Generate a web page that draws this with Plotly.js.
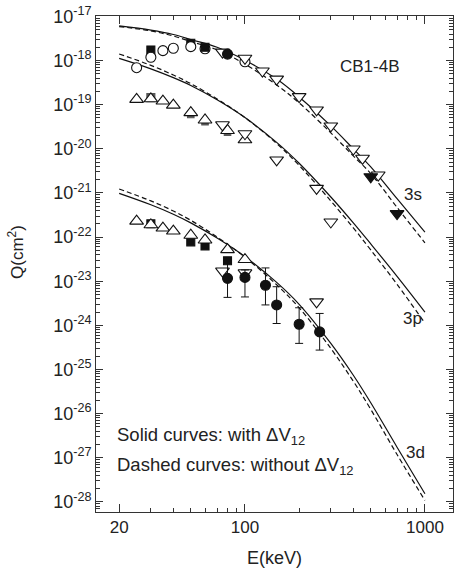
<!DOCTYPE html>
<html>
<head>
<meta charset="utf-8">
<script src="https://cdn.plot.ly/plotly-3.0.1.min.js"></script>
<style>html,body{margin:0;padding:0;background:#fff;}#chart{width:457px;height:570px;}</style>
</head>
<body>
<div id="chart"></div>
<script>
// ---- Theory curves (energy in keV, cross sections in cm^2) ----
const curveE = [20, 30, 40, 50, 70, 100, 150, 200, 300, 400, 500, 700, 1000];
const s3Solid  = [6.1e-18, 4.9e-18, 3.9e-18, 3.0e-18, 2.0e-18, 1.02e-18, 3.8e-19, 1.5e-19, 3.3e-20, 1.0e-20, 3.9e-21, 7.4e-22, 1.3e-22];
const s3Dashed = [5.9e-18, 4.7e-18, 3.6e-18, 2.7e-18, 1.75e-18, 8.3e-19, 2.8e-19, 1.1e-19, 2.3e-20, 6.9e-21, 2.75e-21, 4.7e-22, 7.4e-23];
const p3Solid  = [1.12e-18, 6.5e-19, 4.1e-19, 2.72e-19, 1.29e-19, 5.1e-20, 1.4e-20, 4.7e-21, 8.1e-22, 2.1e-22, 7.0e-23, 1.29e-23, 2.0e-24];
const p3Dashed = [1.41e-18, 7.8e-19, 4.7e-19, 3.0e-19, 1.35e-19, 5.1e-20, 1.32e-20, 4.2e-21, 6.6e-22, 1.62e-22, 5.1e-23, 8.5e-24, 1.12e-24];
const d3Solid  = [9.8e-22, 5.4e-22, 3.3e-22, 2.1e-22, 9.5e-23, 3.6e-23, 9.4e-24, 3.0e-24, 3.9e-25, 7.4e-26, 1.76e-26, 1.73e-27, 1.53e-28];
const d3Dashed = [1.23e-21, 6.6e-22, 3.9e-22, 2.4e-22, 1.0e-22, 3.5e-23, 8.3e-24, 2.5e-24, 3.0e-25, 5.4e-26, 1.25e-26, 1.18e-27, 1.08e-28];

// ---- 3s data ----
const s3CircBackE = [60];
const s3CircBackQ = [1.85e-18];
const s3SqE = [30, 50, 60];
const s3SqQ = [1.74e-18, 2.46e-18, 2.0e-18];
const s3CircE = [25, 30, 35, 40, 50, 100];
const s3CircQ = [6.9e-19, 1.19e-18, 1.68e-18, 1.9e-18, 2.07e-18, 9.4e-19];
const s3DownE = [75, 100, 125, 150, 200, 250, 300, 400, 450, 550];
const s3DownQ = [1.55e-18, 1.13e-18, 5.8e-19, 3.8e-19, 1.52e-19, 7.6e-20, 3.3e-20, 9.9e-21, 6.1e-21, 2.55e-21];
const s3DotE = [80];
const s3DotQ = [1.4e-18];
const s3DownFillE = [500, 700];
const s3DownFillQ = [2.33e-21, 3.4e-22];

// ---- 3p data ----
const p3SqE = [30, 50, 60, 80];
const p3SqQ = [1.45e-19, 6.0e-20, 4.1e-20, 2.37e-20];
const p3UpE = [25, 30, 35, 40, 50, 60, 80, 100];
const p3UpQ = [1.32e-19, 1.36e-19, 1.21e-19, 9.8e-20, 6.6e-20, 4.5e-20, 2.6e-20, 1.6e-20];
const p3DownE = [75, 100, 150, 250, 300];
const p3DownQ = [3.5e-20, 2.2e-20, 5.6e-21, 1.27e-21, 2.2e-22];

// ---- 3d data ----
const d3SqE = [30, 50, 60, 80];
const d3SqQ = [2.0e-22, 7.8e-23, 6.3e-23, 2.9e-23];
const d3UpE = [25, 30, 35, 40, 50, 60, 80, 100];
const d3UpQ = [2.3e-22, 1.9e-22, 1.6e-22, 1.37e-22, 1.1e-22, 8.6e-23, 5.2e-23, 3.1e-23];
const d3DownE = [75, 100, 250];
const d3DownQ = [1.7e-23, 1.55e-23, 3.4e-24];
const d3DotE = [80, 100, 130, 150, 200, 260];
const d3DotQ = [1.16e-23, 1.22e-23, 8.1e-24, 2.9e-24, 1.06e-24, 7.1e-25];
const d3DotHi = [2.8e-23, 1.8e-23, 2.0e-23, 7.5e-24, 2.5e-24, 1.86e-24];
const d3DotLo = [4.3e-24, 4.4e-24, 2.9e-24, 1.1e-24, 3.9e-25, 2.75e-25];

// ---- tick labels ----
const xTickVals = [20, 100, 1000];
const xTickText = ['20', '100', '1000'];
const yExps = [-17, -18, -19, -20, -21, -22, -23, -24, -25, -26, -27, -28];

const FONT = 'Liberation Sans, Arial, Helvetica, sans-serif';
const INK = '#222';
const BLK = '#111';

function line(x, y, dash) {
  return {x: x, y: y, type: 'scatter', mode: 'lines', hoverinfo: 'skip',
    line: {color: BLK, width: 1.2, dash: dash ? '5px,3px' : 'solid', shape: 'spline', smoothing: 1}};
}
function pts(x, y, symbol, size, open, extra) {
  const t = {x: x, y: y, type: 'scatter', mode: 'markers',
    marker: {symbol: symbol, size: size, color: open ? '#fff' : BLK, line: {color: BLK, width: 1.1}}};
  return Object.assign(t, extra || {});
}

const traces = [
  line(curveE, s3Solid, false), line(curveE, s3Dashed, true),
  line(curveE, p3Solid, false), line(curveE, p3Dashed, true),
  line(curveE, d3Solid, false), line(curveE, d3Dashed, true),
  pts(s3CircBackE, s3CircBackQ, 'circle', 10, true),
  pts(s3SqE, s3SqQ, 'square', 8, false),
  pts(s3CircE, s3CircQ, 'circle', 10, true),
  pts(s3DownE, s3DownQ, 'triangle-down', 12, true),
  pts(s3DotE, s3DotQ, 'circle', 10, false),
  pts(s3DownFillE, s3DownFillQ, 'triangle-down', 12, false),
  pts(p3SqE, p3SqQ, 'square', [8, 6.5, 6.5, 6.5], false),
  pts(p3UpE, p3UpQ, 'triangle-up', 12, true),
  pts(p3DownE, p3DownQ, 'triangle-down', 12, true),
  pts(d3SqE, d3SqQ, 'square', 8, false),
  pts(d3UpE, d3UpQ, 'triangle-up', 12, true),
  pts(d3DownE, d3DownQ, 'triangle-down', 12, true),
  pts(d3DotE, d3DotQ, 'circle', 10, false, {error_y: {type: 'data', symmetric: false,
    array: d3DotHi.map((h, i) => h - d3DotQ[i]),
    arrayminus: d3DotLo.map((l, i) => d3DotQ[i] - l),
    color: BLK, thickness: 1, width: 4}})
];

const xMinor = [];
[10, 100].forEach(b => { for (let m = 2; m <= 9; m++) xMinor.push(m * b); });
const yMinor = [];
for (let k = -29; k <= -17; k++) { for (let m = 2; m <= 9; m++) yMinor.push(m * Math.pow(10, k)); }

const L = 96, R = 453, T = 16, B = 512;
function px(x) { return (x - L) / (R - L); }
function py(y) { return (B - y) / (B - T); }

const annFont = {family: FONT, size: 17, color: INK};
const legFont = {family: FONT, size: 18.5, color: INK};
const layout = {
  width: 457, height: 570,
  margin: {l: L, r: 457 - R, t: T, b: 570 - B, pad: 0},
  paper_bgcolor: '#fff', plot_bgcolor: '#fff',
  showlegend: false,
  font: {family: FONT, color: INK, size: 17},
  xaxis: {
    type: 'log', range: [Math.log10(14.87), Math.log10(1432)],
    tickmode: 'array', tickvals: xTickVals, ticktext: xTickText,
    ticks: 'inside', ticklen: 8, tickwidth: 1, tickcolor: '#333',
    minor: {tickmode: 'array', tickvals: xMinor, ticks: 'inside', ticklen: 4, tickwidth: 1, tickcolor: '#333', showgrid: false},
    showline: true, linecolor: '#333', linewidth: 1, mirror: 'ticks',
    showgrid: false, zeroline: false,
    tickfont: {family: FONT, size: 17, color: INK},
    title: {text: 'E(keV)', font: {family: FONT, size: 18, color: INK}, standoff: 14}
  },
  yaxis: {
    type: 'log', range: [-28.23, -16.99],
    tickmode: 'array', tickvals: yExps.map(e => Math.pow(10, e)),
    ticktext: yExps.map(e => '10<sup>' + e + '</sup>'),
    ticks: 'inside', ticklen: 7, tickwidth: 1, tickcolor: '#333',
    minor: {tickmode: 'array', tickvals: yMinor, ticks: 'inside', ticklen: 4, tickwidth: 1, tickcolor: '#333', showgrid: false},
    showline: true, linecolor: '#333', linewidth: 1, mirror: 'ticks',
    showgrid: false, zeroline: false,
    tickfont: {family: FONT, size: 18, color: INK}
  },
  annotations: [
    {xref: 'paper', yref: 'paper', x: -(L - 16) / (R - L), y: py(252), text: 'Q(cm<sup>2</sup>)', textangle: -90, showarrow: false, xanchor: 'center', yanchor: 'middle', font: annFont},
    {xref: 'paper', yref: 'paper', x: px(370), y: py(67), text: 'CB1-4B', showarrow: false, xanchor: 'center', yanchor: 'middle', font: annFont},
    {xref: 'paper', yref: 'paper', x: px(413), y: py(195), text: '3s', showarrow: false, xanchor: 'center', yanchor: 'middle', font: annFont},
    {xref: 'paper', yref: 'paper', x: px(412), y: py(318), text: '3p', showarrow: false, xanchor: 'center', yanchor: 'middle', font: annFont},
    {xref: 'paper', yref: 'paper', x: px(415), y: py(452), text: '3d', showarrow: false, xanchor: 'center', yanchor: 'middle', font: annFont},
    {xref: 'paper', yref: 'paper', x: px(115), y: py(436), text: 'Solid curves: with \u0394V<sub>12</sub>', showarrow: false, xanchor: 'left', yanchor: 'middle', font: legFont},
    {xref: 'paper', yref: 'paper', x: px(115), y: py(466), text: 'Dashed curves: without \u0394V<sub>12</sub>', showarrow: false, xanchor: 'left', yanchor: 'middle', font: legFont}
  ]
};

Plotly.newPlot('chart', traces, layout, {displayModeBar: false, staticPlot: true});
</script>
</body>
</html>
